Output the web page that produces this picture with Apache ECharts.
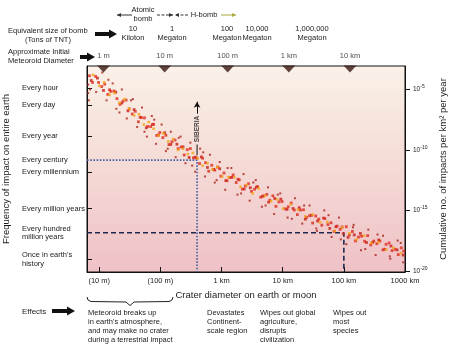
<!DOCTYPE html>
<html><head><meta charset="utf-8">
<script src="https://cdn.jsdelivr.net/npm/echarts@6/dist/echarts.min.js"></script>
<style>html,body{margin:0;padding:0;background:#fff}#c{width:450px;height:345px}</style>
</head><body><div id="c"></div>
<script>
// ---------- DATA ----------
// x = log10(crater diameter, m); y = log10(cumulative impacts per km^2 per year)
const craterLogRed = [0.84,0.89,0.94,0.99,1.04,1.09,1.14,1.19,1.24,1.29,1.34,1.39,1.44,1.49,1.54,1.59,1.64,1.69,1.74,1.79,1.84,1.89,1.94,1.99,2.04,2.09,2.14,2.19,2.24,2.29,2.34,2.39,2.44,2.49,2.54,2.59,2.64,2.69,2.74,2.79,2.84,2.89,2.94,2.99,3.04,3.09,3.14,3.19,3.24,3.29,3.34,3.39,3.44,3.49,3.54,3.59,3.64,3.69,3.74,3.79,3.84,3.89,3.94,3.99,4.04,4.09,4.14,4.19,4.24,4.29,4.34,4.39,4.44,4.49,4.54,4.59,4.64,4.69,4.74,4.79,4.84,4.89,4.94,4.99,5.04,5.09,5.14,5.19,5.24,5.29,5.34,5.39,5.44,5.49,5.54,5.59,5.64,5.69,5.74,5.79,5.84,5.89,5.94,5.98];
const freqLogRed = [-3.87,-4.42,-3.92,-4.42,-4.76,-4.56,-5.41,-5.16,-5.13,-5.76,
  -6.23,-5.96,-5.88,-6.61,-7.03,-6.81,-7.67,-7.33,-7.35,-8.06,
  -8.07,-7.88,-8.8,-8.56,-8.98,-8.79,-9.56,-9.32,-9.18,-9.89,
  -9.76,-10.42,-9.98,-9.89,-10.66,-10.67,-11.13,-10.69,-11.06,-11.77,
  -11.27,-11.67,-11.42,-12.17,-11.91,-12.55,-12.29,-12.07,-12.7,-12.48,
  -13.25,-12.98,-12.8,-13.43,-13.25,-13.03,-13.91,-13.8,-13.68,-14.17,
  -13.8,-14.67,-14.3,-14.27,-14.87,-14.71,-14.4,-14.98,-15.35,-14.98,
  -14.95,-15.58,-15.44,-16.05,-15.47,-15.73,-16.23,-15.68,-16.18,-16.03,
  -16.74,-16.3,-16.57,-16.93,-16.35,-17.03,-16.75,-17.53,-17.21,-17.14,
  -17.56,-17.09,-17.86,-17.54,-17.76,-17.54,-18.27,-17.81,-17.7,-18.33,
  -18.22,-18.66,-18.1,-18.37];
const craterLogDeepRed = [0.87,0.97,1.07,1.17,1.27,1.37,1.47,1.57,1.67,1.77,1.87,1.97,2.07,2.17,2.27,2.37,2.47,2.57,2.67,2.77,2.87,2.97,3.07,3.17,3.27,3.37,3.47,3.57,3.67,3.77,3.87,3.97,4.07,4.17,4.27,4.37,4.47,4.57,4.67,4.77,4.87,4.97,5.07,5.17,5.27,5.37,5.47,5.57,5.67,5.77,5.87,5.97];
const freqLogDeepRed = [-4.26,-4.06,-5.08,-5.03,-5.22,-6.12,-6.77,-6.67,-7.3,-8.17,
  -7.9,-8.77,-8.58,-9.55,-9.53,-9.75,-10.63,-10.6,-10.58,-11.45,
  -11.61,-11.56,-12.54,-12.27,-12.43,-13.23,-13.13,-13.08,-13.84,-14.32,
  -14.02,-14.07,-14.92,-14.85,-14.78,-15.73,-15.41,-15.88,-15.64,-16.49,
  -16.35,-16.38,-17.23,-17.03,-16.91,-17.66,-17.65,-17.45,-18.22,-17.95,
  -18.27,-18.7];
const craterLogOrange = [0.90,1.00,1.08,1.17,1.25,1.33,1.41,1.49,1.57,1.65,1.73,1.81,1.89,1.97,2.05,2.13,2.21,2.29,2.37,2.45,2.53,2.61,2.69,2.77,2.85,2.93,3.01,3.11,3.21,3.31,3.41,3.51,3.61,3.71,3.81,3.91,4.01,4.13,4.25,4.37,4.49,4.61,4.73,4.85,4.97,5.09,5.21,5.33,5.45,5.57,5.69,5.81,5.93];
const freqLogOrange = [-3.8,-4.7,-4.4,-5.45,-5.3,-6.1,-5.8,-6.6,-7.15,-7.05,
  -7.9,-7.7,-8.25,-8.8,-8.65,-9.3,-9.1,-10.0,-9.9,-10.35,
  -10.25,-10.7,-11.3,-11.1,-11.6,-11.4,-12.2,-12.25,-12.25,-13.05,
  -12.9,-13.6,-13.2,-13.8,-14.25,-14.1,-14.85,-14.5,-14.95,-15.5,
  -15.35,-16.0,-15.95,-16.7,-16.4,-16.9,-17.4,-17.1,-17.7,-17.65,
  -18.25,-18.1,-18.55];
const craterLogStray = [0.82,0.82,0.83,0.95,1.05,1.12,1.22,1.28,1.37,1.45,1.55,1.62,1.70,1.78,1.86,1.93,2.02,2.09,2.17,2.25,2.33,2.41,2.49,2.57,2.65,2.73,2.81,2.89,2.97,3.06,3.16,3.26,3.36,3.46,3.56,3.66,3.76,3.86,3.96,4.08,4.20,4.32,4.44,4.56,4.68,4.80,4.92,5.04,5.16,5.28,5.40,5.52,5.64,5.76,5.88,5.97,
  0.85,1.15,1.33,1.52,1.74,1.90,2.12,2.30,2.52,2.70,2.92,3.10,3.32,3.52,3.72,3.92,4.15,4.35,4.55,4.75,4.95,5.15,5.35,5.55,5.75,5.93];
const freqLogStray = [-4.6,-5.3,-5.9,-5.2,-3.6,-5.9,-4.5,-6.6,-5.0,-7.4,-5.8,-8.1,-6.5,-8.9,-7.2,-9.5,-7.9,-10.1,-8.5,-10.6,-8.9,-11.1,-9.4,-11.8,-9.9,-12.2,-10.4,-12.7,-11.0,-13.3,-11.5,-13.7,-12.0,-14.2,-12.5,-14.7,-13.1,-15.3,-13.6,-15.6,-14.0,-16.1,-14.6,-16.7,-15.0,-17.2,-15.6,-17.8,-16.2,-18.3,-16.6,-18.7,-17.1,-19.0,-17.5,-19.3,
  -5.0,-4.2,-6.9,-5.9,-8.5,-7.5,-9.9,-9.0,-11.3,-10.2,-12.5,-11.5,-13.6,-12.7,-14.6,-13.7,-15.7,-14.6,-16.5,-15.4,-17.4,-16.4,-18.2,-17.0,-18.8,-17.7];

const craterTicks = [1,2,3,4,5,6];
const craterTickLabels = ['(10 m)','(100 m)','1 km','10 km','100 km','1000 km'];
// left axis: log10(impacts per year on the entire earth)
const freqTicks = [3.94,2.56,0,-2,-3,-6,-8,-10.2];
const freqTickLabels = ['Every hour','Every day','Every year','Every century','Every millennium','Every million years','Every hundred\nmillion years',"Once in earth's\nhistory"];
const freqTickMarks = [3.94,2.56,0,-3,-6,-10.2];
const densityTicks = [-5,-10,-15,-20];
const meteoroidCraterLog = [1.07,2.07,3.1,4.1,5.1];
const meteoroidLabels = ['1 m','10 m','100 m','1 km','10 km'];
const bombValues = ['10','1','100','10,000','1,000,000'];
const bombUnits = ['Kiloton','Megaton','Megaton','Megaton','Megaton'];
const siberiaCraterLog = 2.6;
const centuryFreq = -2;
const hundredMillionFreq = -8;
const bigCraterLog = 5;
const effects = [
  ["Meteoroid breaks up","in earth's atmosphere,","and may make no crater","during a terrestrial impact"],
  ["Devastates","Continent-","scale region"],
  ["Wipes out global","agriculture,","disrupts","civilization"],
  ["Wipes out","most","species"]
];

// ---------- LAYOUT ----------
const X_MIN = 0.8, X_MAX = 6.0, Y_MIN = -20.1, Y_MAX = -3.06, SHIFT = 8.85;
const FONT = 'Liberation Sans, Arial, sans-serif';
const INK = '#1b1b1b';
const bombX = [133,172,227,257,312];
const effectsX = [88,207,260,333];

const zip = (a,b) => a.map((v,i)=>[v,b[i]]);

function txt(text,x,y,size,align,extra){
  return Object.assign({type:'text',x:x,y:y,silent:true,style:{text:text,fill:INK,fontSize:size,fontFamily:FONT,align:align||'left',verticalAlign:'middle'}},extra||{});
}
function fatArrow(x1,x2,y){
  return {type:'polygon',silent:true,shape:{points:[[x1,y-2],[x2-8,y-2],[x2-8,y-4.5],[x2,y],[x2-8,y+4.5],[x2-8,y+2],[x1,y+2]]},style:{fill:'#111'}};
}
function thinArrow(xFrom,xTo,y,color,dash){
  const dir = xTo > xFrom ? 1 : -1;
  return [
    {type:'line',silent:true,shape:{x1:xFrom,y1:y,x2:xTo,y2:y},style:{stroke:color,lineWidth:1,lineDash:dash||null}},
    {type:'polygon',silent:true,shape:{points:[[xTo,y],[xTo-dir*4,y-2],[xTo-dir*4,y+2]]},style:{fill:color}}
  ];
}

const graphics = [];
graphics.push(...thinArrow(132,117,15,'#333'));
graphics.push(txt('Atomic',143,10,7.5,'center'));
graphics.push(txt('bomb',143,19,7.5,'center'));
graphics.push(...thinArrow(157,173,15,'#333',[3,1.5]));
graphics.push(...thinArrow(188,175,15,'#333',[3,1.5]));
graphics.push(txt('H-bomb',204,15,7.5,'center'));
graphics.push(...thinArrow(221,236,15,'#a9a83a'));
graphics.push(txt('Equivalent size of bomb',8,31,7.5,'left'));
graphics.push(txt('(Tons of TNT)',48,40,7.5,'center'));
graphics.push(fatArrow(95,117,34));
bombValues.forEach((v,i)=>{
  graphics.push(txt(v,bombX[i],29,7.5,'center'));
  graphics.push(txt(bombUnits[i],bombX[i],38,7.5,'center'));
});
graphics.push(txt('Approximate Initial',8,52,7.5,'left'));
graphics.push(txt('Meteoroid Diameter',8,61,7.5,'left'));
graphics.push(fatArrow(80,95,57));
graphics.push(txt('Effects',22,312,8,'left'));
graphics.push(fatArrow(52,75,311));
graphics.push({type:'polyline',silent:true,shape:{points:[[87,297],[88,300],[91,301.5],[126,302],[130,305.5],[134,302],[169,301.5],[172,300],[173,297]]},style:{stroke:'#222',lineWidth:1,fill:null}});
effects.forEach((lines,i)=>{
  lines.forEach((l,j)=>graphics.push(txt(l,effectsX[i],313+j*9,7.5,'left')));
});

const option = {
  animation:false,
  backgroundColor:'#fff',
  textStyle:{fontFamily:FONT},
  grid:{left:87,right:45,top:66,bottom:73,show:true,containLabel:false,outerBoundsMode:'none',
    borderColor:'#111',borderWidth:1,
    backgroundColor:{type:'linear',x:0,y:0,x2:0,y2:1,colorStops:[
      {offset:0,color:'#faf1e8'},{offset:0.35,color:'#f6e1da'},{offset:1,color:'#efc1c6'}]}},
  xAxis:[{
    type:'value',min:X_MIN,max:X_MAX,position:'bottom',
    name:'Crater diameter on earth or moon',nameLocation:'middle',nameGap:17,
    nameTextStyle:{fontSize:9.5,color:INK,fontFamily:FONT},
    axisLine:{show:true,onZero:false,lineStyle:{color:'#111',width:1}},
    axisTick:{show:true,inside:true,length:5,lineStyle:{color:'#111'},customValues:craterTicks},
    axisLabel:{show:true,fontSize:7.5,color:INK,margin:5,customValues:craterTicks,
      formatter:v=>craterTickLabels[craterTicks.indexOf(Math.round(v))]||''},
    splitLine:{show:false}
  }],
  yAxis:[{
    type:'value',min:Y_MIN,max:Y_MAX,position:'right',
    name:'Cumulative no. of impacts per km\u00B2 per year',nameLocation:'middle',nameGap:27,nameRotate:90,
    nameTextStyle:{fontSize:9.5,color:INK,fontFamily:FONT},
    axisLine:{show:true,onZero:false,lineStyle:{color:'#111',width:1}},
    axisTick:{show:true,inside:false,length:5,lineStyle:{color:'#111'},customValues:densityTicks},
    axisLabel:{show:true,fontSize:6.5,color:INK,margin:8,customValues:densityTicks,
      formatter:v=>'10{s|'+Math.round(v)+'}',
      rich:{s:{fontSize:5,padding:[0,0,5,0],color:INK}}},
    splitLine:{show:false}
  },{
    type:'value',min:Y_MIN+SHIFT,max:Y_MAX+SHIFT,position:'left',
    name:'Frequency of impact on entire earth',nameLocation:'middle',nameGap:69,nameRotate:90,
    nameTextStyle:{fontSize:9.5,color:INK,fontFamily:FONT},
    axisLine:{show:true,onZero:false,lineStyle:{color:'#111',width:1}},
    axisTick:{show:true,inside:true,length:5,lineStyle:{color:'#111'},customValues:freqTickMarks},
    axisLabel:{show:true,fontSize:7.5,color:INK,margin:65,align:'left',lineHeight:8.5,customValues:freqTicks,
      formatter:v=>{let k=0,b=1e9;freqTicks.forEach((t,i)=>{const d=Math.abs(t-v);if(d<b){b=d;k=i;}});return freqTickLabels[k];}},
    splitLine:{show:false}
  }],
  graphic:graphics,
  series:[
    {type:'line',xAxisIndex:0,yAxisIndex:1,symbol:'none',silent:true,z:3,
      data:[[X_MIN,centuryFreq],[siberiaCraterLog,centuryFreq],[siberiaCraterLog,Y_MIN+SHIFT]],
      lineStyle:{color:'#4362a3',width:1.6,type:[1.6,1.6]}},
    {type:'line',xAxisIndex:0,yAxisIndex:1,symbol:'none',silent:true,z:3,
      data:[[X_MIN,hundredMillionFreq],[bigCraterLog,hundredMillionFreq],[bigCraterLog,Y_MIN+SHIFT]],
      lineStyle:{color:'#1d2a4e',width:1.6,type:[5,3]}},
    {type:'line',xAxisIndex:0,yAxisIndex:0,symbol:'none',silent:true,z:3,
      data:[[siberiaCraterLog,-9.55],[siberiaCraterLog,-10.45]],
      lineStyle:{color:'#111',width:1}},
    {type:'scatter',xAxisIndex:0,yAxisIndex:0,data:[],silent:true,z:3,
      markLine:{silent:true,symbol:['none','arrow'],symbolSize:[5,6],animation:false,
        lineStyle:{color:'#111',width:1,type:'solid'},label:{show:false},
        data:[[{coord:[siberiaCraterLog,-7.0]},{coord:[siberiaCraterLog,-6.02]}]]}},
    {type:'scatter',xAxisIndex:0,yAxisIndex:0,symbolSize:0,silent:true,z:4,
      data:[[siberiaCraterLog,-8.27]],
      label:{show:true,position:'inside',rotate:90,formatter:'SIBERIA',fontSize:6.5,fontWeight:'bold',color:'#111',fontFamily:FONT}},
    {type:'scatter',xAxisIndex:0,yAxisIndex:0,symbol:'rect',symbolSize:2,silent:true,z:5,
      data:zip(craterLogStray,freqLogStray),itemStyle:{color:'#a81f17'}},
    {type:'scatter',xAxisIndex:0,yAxisIndex:0,symbol:'rect',symbolSize:2.8,silent:true,z:5,
      data:zip(craterLogDeepRed,freqLogDeepRed),itemStyle:{color:'#c41d15'}},
    {type:'scatter',xAxisIndex:0,yAxisIndex:0,symbol:'rect',symbolSize:2.8,silent:true,z:5,
      data:zip(craterLogRed,freqLogRed),itemStyle:{color:'#dc2a1c'}},
    {type:'scatter',xAxisIndex:0,yAxisIndex:0,symbol:'rect',symbolSize:2.6,silent:true,z:6,
      data:zip(craterLogOrange,freqLogOrange),itemStyle:{color:'#f2a417'}},
    {type:'scatter',xAxisIndex:0,yAxisIndex:0,symbol:'triangle',symbolRotate:180,symbolSize:[13,7],symbolOffset:[0,3],
      clip:false,silent:true,z:7,
      data:meteoroidCraterLog.map(v=>[v,Y_MAX]),itemStyle:{color:'#3a1611'}},
    {type:'scatter',xAxisIndex:0,yAxisIndex:0,symbolSize:0,clip:false,silent:true,z:7,
      data:meteoroidCraterLog.map((v,i)=>[v,Y_MAX,meteoroidLabels[i]]),
      label:{show:true,position:'top',distance:6,formatter:p=>p.data[2],fontSize:7.5,color:INK,fontFamily:FONT}}
  ]
};
const chart = echarts.init(document.getElementById('c'),null,{renderer:'canvas'});
chart.setOption(option);
</script></body></html>
